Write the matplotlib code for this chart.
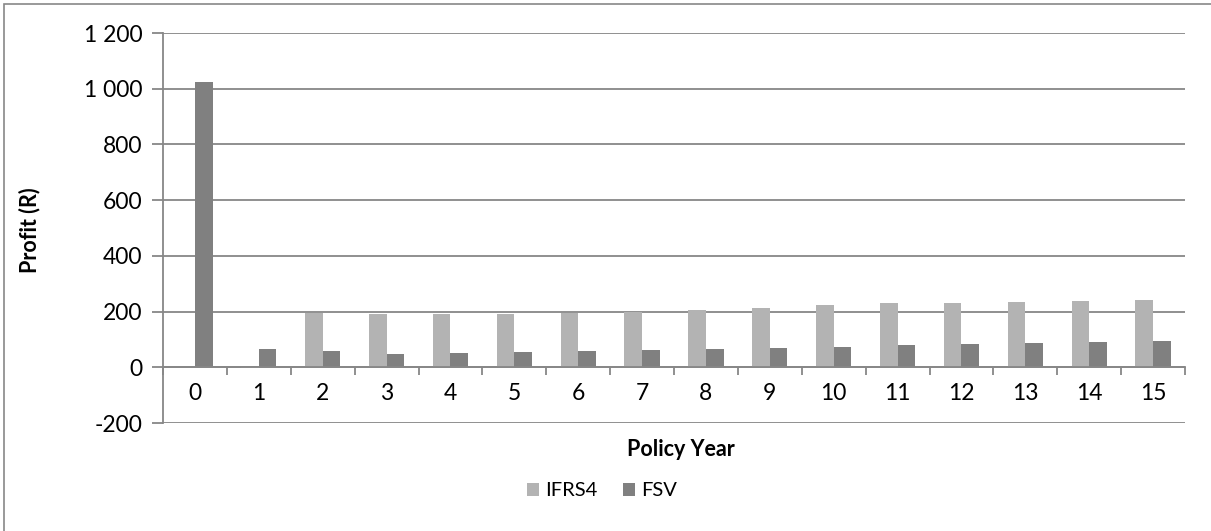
import numpy as np
import matplotlib.pyplot as plt
from matplotlib.ticker import FuncFormatter, MultipleLocator
from matplotlib.patches import Rectangle

# データ
years = list(range(16))
ifrs4 = [0, -4, 195, 190, 190, 193, 194, 200, 207, 213, 222, 229, 232, 235, 238, 243]
fsv = [1025, 65, 60, 48, 52, 54, 58, 61, 65, 69, 73, 81, 84, 86, 91, 95]
y_ticks = [-200, 0, 200, 400, 600, 800, 1000, 1200]

plt.rcParams['font.family'] = ['Lato', 'DejaVu Sans']
grid_col = '#878787'

fig = plt.figure(figsize=(12.11, 5.31), dpi=100)
ax = fig.add_axes([163 / 1211, 1 - 423 / 531, (1185 - 163) / 1211, (423 - 33) / 531])

# 棒グラフ
x = np.arange(len(years))
w = 0.275
ax.bar(x - w / 2, ifrs4, w, color='#b3b3b3', label='IFRS4', zorder=3)
ax.bar(x + w / 2, fsv, w, color='#808080', label='FSV', zorder=3)

ax.set_xlim(-0.5, len(years) - 0.5)
ax.set_ylim(-200, 1200)
ax.set_yticks(y_ticks)
ax.yaxis.set_major_formatter(FuncFormatter(lambda v, p: '{:,.0f}'.format(v).replace(',', ' ')))
ax.grid(axis='y', color=grid_col, linewidth=1.3, zorder=0)

# 軸の設定
for s in ['top', 'right']:
    ax.spines[s].set_visible(False)
ax.spines['bottom'].set_position(('data', 0))
ax.spines['bottom'].set_color(grid_col)
ax.spines['bottom'].set_linewidth(1.3)
ax.spines['bottom'].set_zorder(4)
ax.spines['left'].set_color(grid_col)
ax.spines['left'].set_linewidth(1.3)

ax.set_xticks(x)
ax.set_xticklabels([str(y) for y in years])
ax.xaxis.set_minor_locator(MultipleLocator(1, offset=0.5))
ax.tick_params(axis='x', which='major', length=0, pad=11, labelsize=16.5)
ax.tick_params(axis='x', which='minor', length=6, width=1.3, color=grid_col, direction='out')
ax.tick_params(axis='y', length=8, width=1.3, color=grid_col, labelsize=16.5, pad=7)

fig.text(681 / 1211, 1 - 449 / 531, 'Policy Year', ha='center', va='center',
         fontsize=15.5, fontweight='bold')
fig.text(30 / 1211, 1 - 230 / 531, 'Profit (R)', ha='center', va='center',
         fontsize=15.5, fontweight='bold', rotation=90)

fig.legend(loc='center', bbox_to_anchor=(602 / 1211, 1 - 491 / 531), ncol=2, frameon=False,
           fontsize=14.5, handlelength=0.6, handleheight=0.6, handletextpad=0.3, columnspacing=1.3)

# 外枠
fig.patches.append(Rectangle((4 / 1211, -0.1), 1.2, 1 - 4 / 531 + 0.1, transform=fig.transFigure,
                             fill=False, edgecolor='#888888', linewidth=1.2))

fig.savefig('out.png', dpi=100)
